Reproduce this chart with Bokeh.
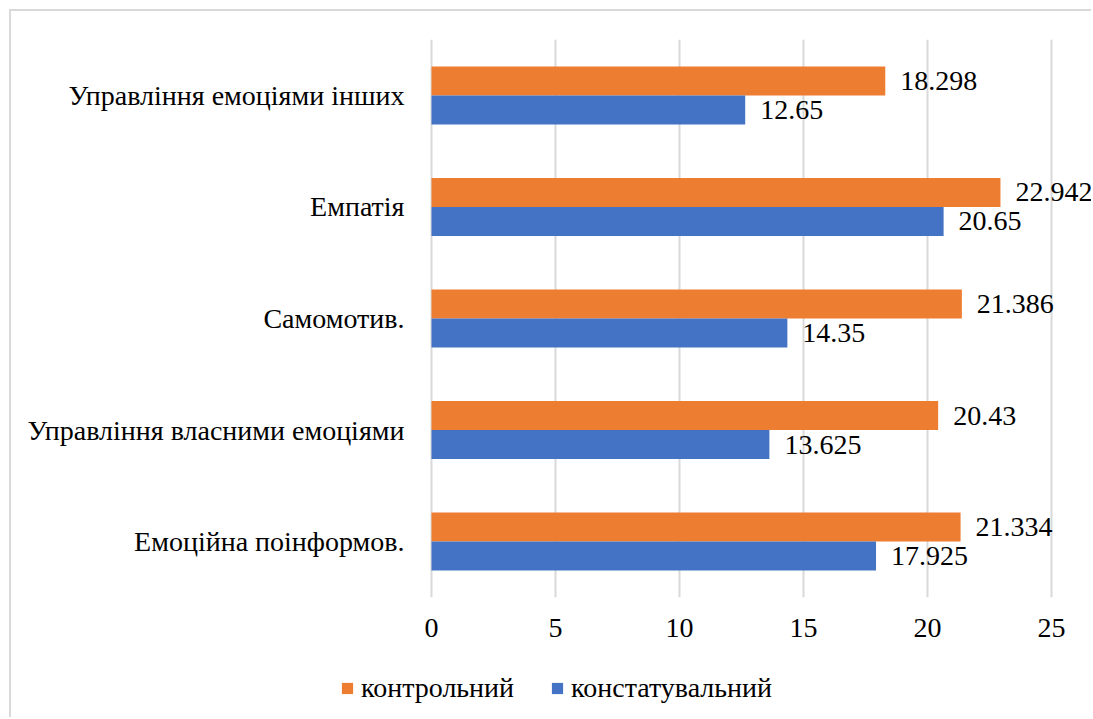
from bokeh.plotting import figure
from bokeh.models import (Range1d, FixedTicker, Legend, LegendItem, ColumnDataSource,
                          InlineStyleSheet)
from bokeh.transform import dodge
from bokeh.core.properties import value
from bokeh.embed import file_html
from bokeh.resources import INLINE

# Emotional intelligence scales, top to bottom
categories = [
    "Управління емоціями інших",
    "Емпатія",
    "Самомотив.",
    "Управління власними емоціями",
    "Емоційна поінформов.",
]
control = [18.298, 22.942, 21.386, 20.43, 21.334]
ascertaining = [12.65, 20.65, 14.35, 13.625, 17.925]
series_names = ["контрольний", "констатувальний"]
x_ticks = [0, 5, 10, 15, 20, 25]

FONT = "'Liberation Serif', 'Times New Roman', serif"
FONT_SIZE = "28px"
ORANGE = "#ED7D31"
BLUE = "#4472C4"
GRID = "#D9D9D9"

# serif face for every text node of the svg output
serif_css = InlineStyleSheet(css="""
:host { font-family: 'Liberation Serif', 'Times New Roman', serif; }
text, tspan { font-family: 'Liberation Serif', 'Times New Roman', serif !important; }
""")

# category slots: top category sits highest
n = len(categories)
pos = list(range(n - 1, -1, -1))

src = ColumnDataSource(dict(
    pos=pos,
    control=control,
    ascertaining=ascertaining,
    control_lbl=[str(v) for v in control],
    ascertaining_lbl=[str(v) for v in ascertaining],
))

# one canvas holding chart, axes and legend; axes are pinned inside it
p = figure(
    width=1082, height=708,
    x_range=Range1d(-16.935, 26.694),
    y_range=Range1d(-1.596, 4.753),
    output_backend="svg", toolbar_location=None,
    min_border=0,
    margin=(9, 0, 0, 9),
    styles={"border-top": "2px solid #D9D9D9", "border-left": "2px solid #D9D9D9",
            "font-family": "'Liberation Serif', 'Times New Roman', serif"},
    stylesheets=[serif_css],
)
p.outline_line_color = None
p.background_fill_color = "white"
p.border_fill_color = "white"
p.grid.grid_line_color = None

# vertical grid lines spanning the category block only
p.segment(x0=x_ticks, x1=x_ticks, y0=-0.5, y1=n - 0.5, line_color=GRID, line_width=2)

bar_h = 0.26
r_ctrl = p.hbar(y=dodge("pos", bar_h / 2), left=0, right="control",
                height=bar_h, fill_color=ORANGE, line_color=None, source=src)
r_asc = p.hbar(y=dodge("pos", -bar_h / 2), left=0, right="ascertaining",
               height=bar_h, fill_color=BLUE, line_color=None, source=src)

label_kw = dict(x_offset=15, text_baseline="middle", text_align="left",
                text_font=value(FONT), text_font_size=FONT_SIZE, text_color="black",
                source=src)
p.text(x="control", y=dodge("pos", bar_h / 2), text="control_lbl", **label_kw)
p.text(x="ascertaining", y=dodge("pos", -bar_h / 2), text="ascertaining_lbl", **label_kw)

# axes
p.xaxis.ticker = FixedTicker(ticks=x_ticks)
p.xaxis.fixed_location = -0.5
p.yaxis.ticker = FixedTicker(ticks=pos)
p.yaxis.major_label_overrides = {k: c for k, c in zip(pos, categories)}
p.yaxis.fixed_location = 0
for ax in (p.xaxis, p.yaxis):
    ax.axis_line_color = None
    ax.major_tick_line_color = None
    ax.minor_tick_line_color = None
    ax.major_label_text_font = FONT
    ax.major_label_text_font_size = FONT_SIZE
    ax.major_label_text_color = "black"
p.xaxis.major_label_standoff = 16
p.yaxis.major_label_standoff = 21

legend = Legend(
    items=[LegendItem(label=series_names[0], renderers=[r_ctrl]),
           LegendItem(label=series_names[1], renderers=[r_asc])],
    orientation="horizontal", location=(329, 15),
    glyph_width=14, glyph_height=14, label_standoff=7, spacing=36,
    padding=0, margin=0, border_line_color=None, background_fill_alpha=0,
    label_text_font=FONT, label_text_font_size=FONT_SIZE, label_text_color="black",
)
p.add_layout(legend)

open("out.html", "w").write(file_html(p, INLINE))
